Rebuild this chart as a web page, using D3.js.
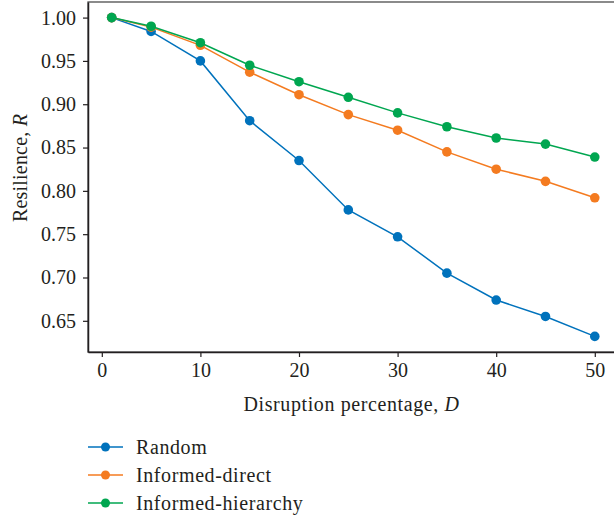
<!DOCTYPE html>
<html>
<head>
<meta charset="utf-8">
<script src="https://cdn.jsdelivr.net/npm/d3@7"></script>
<style>
  body { margin: 0; background: #fff; }
  text { font-family: "Liberation Serif", "DejaVu Serif", serif; fill: #231f20; }
</style>
</head>
<body>
<div id="chart"></div>
<script>
var width = 614,
    height = 515;

var margin = {top: 2, right: -1, bottom: 163, left: 88};

// data
var disruption = [1, 5, 10, 15, 20, 25, 30, 35, 40, 45, 50];
var random = [1.000, 0.984, 0.950, 0.881, 0.835, 0.778, 0.747, 0.705, 0.674, 0.655, 0.632];
var informedDirect = [1.000, 0.989, 0.968, 0.937, 0.911, 0.888, 0.870, 0.845, 0.825, 0.811, 0.792];
var informedHierarchy = [1.000, 0.990, 0.971, 0.945, 0.926, 0.908, 0.890, 0.874, 0.861, 0.854, 0.839];

var seriesNames = ["Random", "Informed-direct", "Informed-hierarchy"];
var seriesColors = ["#0072bc", "#f47b20", "#00a650"];
var xTicks = [0, 10, 20, 30, 40, 50];
var yTicks = [0.65, 0.70, 0.75, 0.80, 0.85, 0.90, 0.95, 1.00];

var series = [random, informedDirect, informedHierarchy].map(function(vals, i) {
  return {
    name: seriesNames[i],
    color: seriesColors[i],
    values: vals.map(function(v, j) { return {x: disruption[j], y: v}; })
  };
});

var x = d3.scaleLinear()
    .domain([-1.4, 52.05])
    .range([margin.left, width - margin.right]);

var y = d3.scaleLinear()
    .domain([0.614, 1.018])
    .range([height - margin.bottom, margin.top]);

var svg = d3.select("#chart").append("svg")
    .attr("width", width)
    .attr("height", height);

// frame
svg.append("rect")
    .attr("x", x.range()[0])
    .attr("y", y.range()[1])
    .attr("width", x.range()[1] - x.range()[0])
    .attr("height", y.range()[0] - y.range()[1])
    .attr("fill", "none")
    .attr("stroke", "#4d4d4d")
    .attr("stroke-width", 1.3);

var xAxis = svg.append("g")
    .attr("transform", "translate(0," + y.range()[0] + ")")
    .call(d3.axisBottom(x).tickValues(xTicks).tickSize(5).tickSizeOuter(0).tickPadding(6).tickFormat(d3.format("d")));

var yAxis = svg.append("g")
    .attr("transform", "translate(" + x.range()[0] + ",0)")
    .call(d3.axisLeft(y).tickValues(yTicks).tickSize(5).tickSizeOuter(0).tickPadding(7).tickFormat(d3.format(".2f")));

[xAxis, yAxis].forEach(function(g) {
  g.selectAll("path").attr("stroke", "#231f20").attr("stroke-width", 1.5);
  g.selectAll("line").attr("stroke", "#231f20").attr("stroke-width", 1.2);
  g.selectAll("text")
      .style("font-family", "'Liberation Serif', serif")
      .style("font-size", "20px")
      .attr("fill", "#231f20");
});

// axis titles
var xTitle = svg.append("text")
    .attr("x", (x.range()[0] + x.range()[1]) / 2)
    .attr("y", 411)
    .attr("text-anchor", "middle")
    .style("font-size", "20px")
    .style("letter-spacing", "0.6px");
xTitle.append("tspan").text("Disruption percentage, ");
xTitle.append("tspan").style("font-style", "italic").text("D");

var yTitle = svg.append("text")
    .attr("transform", "translate(27,168)rotate(-90)")
    .attr("text-anchor", "middle")
    .style("font-size", "20px")
    .style("letter-spacing", "0.2px");
yTitle.append("tspan").text("Resilience, ");
yTitle.append("tspan").style("font-style", "italic").text("R");

var line = d3.line()
    .x(function(d) { return x(d.x); })
    .y(function(d) { return y(d.y); });

var g = svg.selectAll(".series")
    .data(series)
  .enter().append("g")
    .attr("class", "series");

g.append("path")
    .attr("d", function(d) { return line(d.values); })
    .attr("fill", "none")
    .attr("stroke", function(d) { return d.color; })
    .attr("stroke-width", 1.5);

g.selectAll("circle")
    .data(function(d) { return d.values.map(function(v) { return {x: v.x, y: v.y, color: d.color}; }); })
  .enter().append("circle")
    .attr("cx", function(d) { return x(d.x); })
    .attr("cy", function(d) { return y(d.y); })
    .attr("r", 4.8)
    .attr("fill", function(d) { return d.color; });

// legend
var legend = svg.selectAll(".legend")
    .data(series)
  .enter().append("g")
    .attr("class", "legend")
    .attr("transform", function(d, i) { return "translate(88," + (447 + i * 28) + ")"; });

legend.append("line")
    .attr("x1", 0).attr("x2", 35)
    .attr("stroke", function(d) { return d.color; })
    .attr("stroke-width", 1.5);

legend.append("circle")
    .attr("cx", 17.5)
    .attr("r", 4.5)
    .attr("fill", function(d) { return d.color; });

legend.append("text")
    .attr("x", 48)
    .attr("y", 0)
    .attr("dy", "0.33em")
    .style("font-size", "20px")
    .style("letter-spacing", "0.6px")
    .text(function(d) { return d.name; });
</script>
</body>
</html>
